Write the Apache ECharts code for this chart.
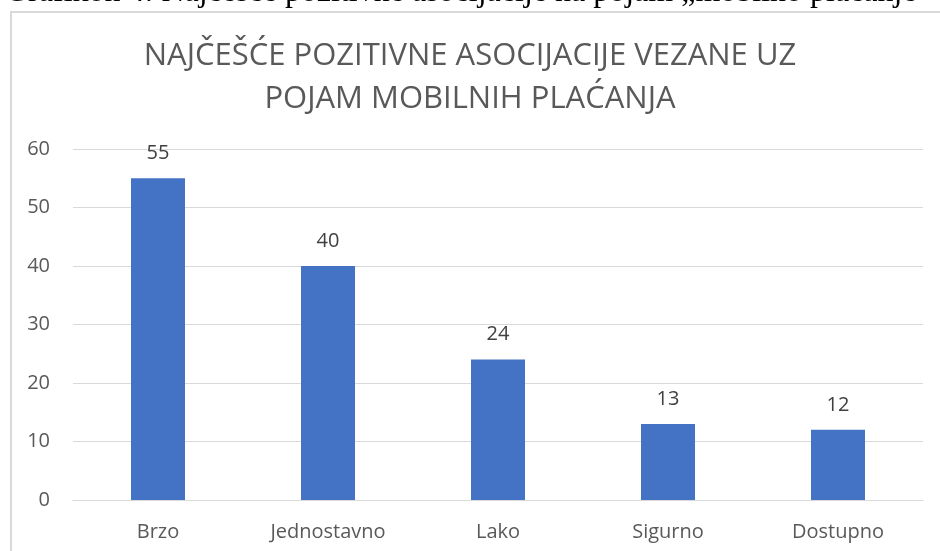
<!DOCTYPE html>
<html>
<head>
<meta charset="utf-8">
<script src="https://cdn.jsdelivr.net/npm/echarts@6/dist/echarts.min.js"></script>
<style>
html,body{margin:0;padding:0;background:#fff;}
#chart{width:940px;height:551px;}
</style>
</head>
<body>
<div id="chart"></div>
<script>
const categories = ['Brzo', 'Jednostavno', 'Lako', 'Sigurno', 'Dostupno'];
const values = [55, 40, 24, 13, 12];
const yTicks = [0, 10, 20, 30, 40, 50, 60];
const titleLines = ['NAJČEŠĆE POZITIVNE ASOCIJACIJE VEZANE UZ', 'POJAM MOBILNIH PLAĆANJA'];
const caption = 'Grafikon 4: Najčešće pozitivne asocijacije na pojam „mobilno plaćanje“';

const sansFont = '"Open Sans", sans-serif';
const chart = echarts.init(document.getElementById('chart'), null, {renderer: 'canvas'});
chart.setOption({
  backgroundColor: '#fff',
  animation: false,
  title: {
    text: titleLines.join('\n'),
    left: 'center',
    top: 30,
    textStyle: {
      fontFamily: sansFont,
      fontSize: 31,
      fontWeight: 'normal',
      color: '#595959',
      lineHeight: 43
    }
  },
  graphic: [
    {
      type: 'rect',
      shape: {x: 11, y: 12, width: 1000, height: 600},
      style: {fill: 'none', stroke: '#d9d9d9', lineWidth: 2},
      silent: true
    },
    {
      type: 'text',
      x: 5,
      y: 9,
      style: {
        text: caption,
        font: '32px "Liberation Serif", "Times New Roman", serif',
        fill: '#000',
        verticalAlign: 'bottom',
        align: 'left'
      },
      silent: true
    }
  ],
  grid: {left: 73, right: 17, top: 149, bottom: 51, containLabel: false},
  xAxis: {
    type: 'category',
    data: categories,
    axisLine: {lineStyle: {color: '#d9d9d9', width: 1}},
    axisTick: {show: false},
    axisLabel: {fontFamily: sansFont, fontSize: 20, color: '#595959', margin: 22}
  },
  yAxis: {
    type: 'value',
    min: yTicks[0],
    max: yTicks[yTicks.length - 1],
    interval: 10,
    axisLine: {show: false},
    axisTick: {show: false},
    splitLine: {lineStyle: {color: '#d9d9d9', width: 1}},
    axisLabel: {fontFamily: sansFont, fontSize: 20, color: '#595959', margin: 23}
  },
  series: [{
    type: 'bar',
    data: values,
    barWidth: 54,
    itemStyle: {color: '#4472C4'},
    label: {
      show: true,
      position: 'top',
      distance: 15,
      fontFamily: sansFont,
      fontSize: 20,
      color: '#404040'
    }
  }]
});
</script>
</body>
</html>
